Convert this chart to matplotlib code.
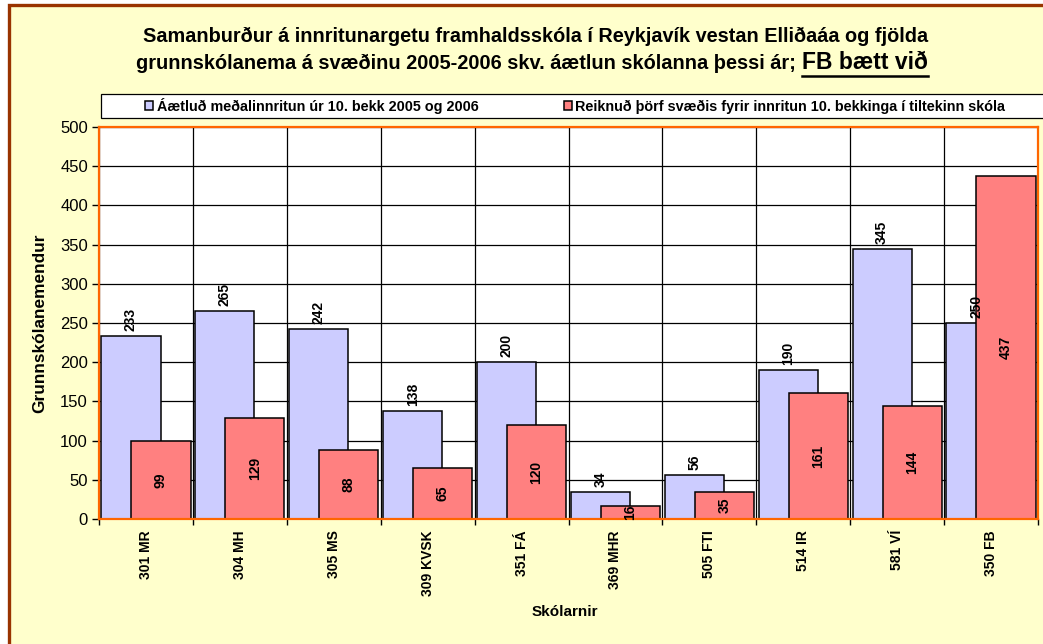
import matplotlib
matplotlib.use("Agg")
import matplotlib.pyplot as plt
from matplotlib.patches import Rectangle
from matplotlib.lines import Line2D
import numpy as np

plt.rcParams['font.family'] = ['Liberation Sans', 'DejaVu Sans']

categories = ["301 MR", "304 MH", "305 MS", "309 KVSK", "351 FÁ",
              "369 MHR", "505 FTI", "514 IR", "581 VÍ", "350 FB"]
planned = [233, 265, 242, 138, 200, 34, 56, 190, 345, 250]
needed = [99, 129, 88, 65, 120, 16, 35, 161, 144, 437]
series_names = ["Áætluð meðalinnritun úr 10. bekk 2005 og 2006",
                "Reiknuð þörf svæðis fyrir innritun 10. bekkinga í tiltekinn skóla"]
title_line1 = "Samanburður á innritunargetu framhaldsskóla í Reykjavík vestan Elliðaáa og fjölda"
title_line2a = "grunnskólanema á svæðinu 2005-2006 skv. áætlun skólanna þessi ár; "
title_line2b = "FB bætt við"
ylabel = "Grunnskólanemendur"
xlabel = "Skólarnir"

W, H = 1043, 644
fig = plt.figure(figsize=(W / 100, H / 100), dpi=100, facecolor="white")

def fx(px):
    return px / W

def fy(py):
    return 1 - py / H

# outer frame (yellow background with brown border on left/top)
fig.patches.append(Rectangle((fx(8.5), fy(700)), fx(1200), (700 - 4.5) / H,
                             transform=fig.transFigure, facecolor="#FFFFCC",
                             edgecolor="#993300", linewidth=2.4, zorder=-5))

ax = fig.add_axes([fx(99), fy(519), fx(1038 - 99), (519 - 127) / H])
ax.set_facecolor("white")
ax.set_zorder(2)

x = np.arange(len(categories))
bw = 0.63
b1 = ax.bar(x - 0.16, planned, width=bw, color="#CCCCFF", edgecolor="black",
            linewidth=1.1, zorder=3, label=series_names[0])
b2 = ax.bar(x + 0.16, needed, width=bw, color="#FF8080", edgecolor="black",
            linewidth=1.1, zorder=4, label=series_names[1])

for rect, v in zip(b1, planned):
    ax.annotate(str(v), (rect.get_x() + rect.get_width() / 2, v),
                xytext=(0, 3.5), textcoords="offset points", rotation=90,
                ha="center", va="bottom", fontsize=10, fontweight="bold", zorder=6)
for rect, v in zip(b2, needed):
    ax.text(rect.get_x() + rect.get_width() / 2, v / 2, str(v), rotation=90,
            ha="center", va="center", fontsize=10, fontweight="bold", zorder=6)

ax.set_xlim(-0.5, len(categories) - 0.5)
ax.set_ylim(0, 500)
ax.set_yticks(np.arange(0, 501, 50))
ax.tick_params(axis="y", labelsize=12, length=5, width=1, direction="out", pad=3)
ax.set_xticks(np.arange(-0.5, len(categories), 1.0))
ax.set_xticklabels([])
ax.set_xticks(x, minor=True)
ax.set_xticklabels(categories, minor=True, rotation=90, fontsize=10, fontweight="bold")
ax.tick_params(axis="x", which="major", length=4, width=1, direction="out")
ax.tick_params(axis="x", which="minor", length=0, pad=8)
ax.grid(True, which="major", color="black", linewidth=0.9, zorder=1)
ax.set_axisbelow(True)
for s in ax.spines.values():
    s.set_color("#FF6600")
    s.set_linewidth(1.6)
    s.set_zorder(5)

fig.text(fx(40), fy(323), ylabel, rotation=90, ha="center", va="center",
         fontsize=12.4, fontweight="bold")
fig.text(fx(565), fy(612), xlabel, ha="center", va="center",
         fontsize=11, fontweight="bold")

# legend box
fig.patches.append(Rectangle((fx(101), fy(118)), fx(1100), 24 / H,
                             transform=fig.transFigure, facecolor="white",
                             edgecolor="black", linewidth=0.9, zorder=1))
fig.legend(handles=[b1, b2], labels=series_names, ncol=2, loc="center left",
           bbox_to_anchor=(fx(138), fy(106)), frameon=False,
           prop={"size": 10.4, "weight": "bold"}, handlelength=0.55, handleheight=0.6,
           handletextpad=0.25, columnspacing=5.9, borderpad=0)

# title
t1 = fig.text(fx(536), fy(42), title_line1, ha="center", va="baseline",
              fontsize=14.3, fontweight="bold")
t2a = fig.text(0, fy(69), title_line2a, ha="left", va="baseline",
               fontsize=14.4, fontweight="bold")
t2b = fig.text(0, fy(69), title_line2b, ha="left", va="baseline",
               fontsize=16.5, fontweight="bold")
r = fig.canvas.get_renderer()
wa = t2a.get_window_extent(r).width
wb = t2b.get_window_extent(r).width
total = wa + wb
start = 532 - total / 2
t2a.set_x(fx(start))
t2b.set_x(fx(start + wa))
fig.lines.append(Line2D([fx(start + wa), fx(start + wa + wb)], [fy(75.5), fy(75.5)],
                        transform=fig.transFigure, color="black", linewidth=1.8))

fig.savefig("out.png", dpi=100, facecolor=fig.get_facecolor())
